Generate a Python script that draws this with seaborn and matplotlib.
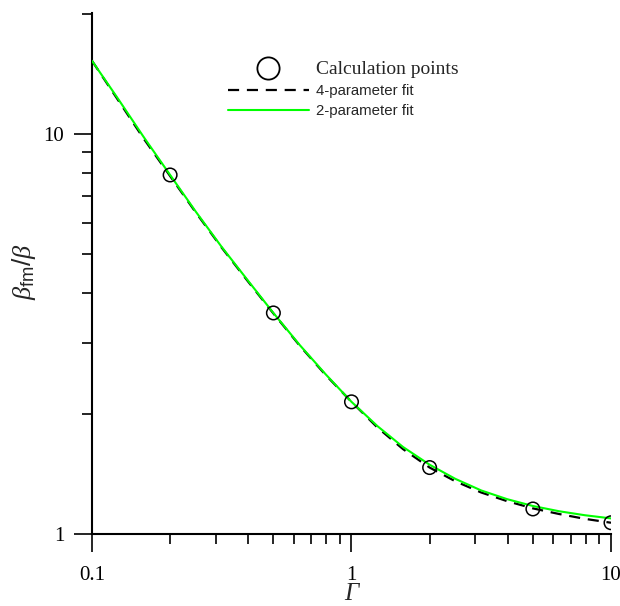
import matplotlib
matplotlib.use("Agg")
import matplotlib.pyplot as plt
import matplotlib.ticker as mticker
from matplotlib.lines import Line2D
import seaborn as sns
import pandas as pd

# Calculation points
gamma_pts = [0.2, 0.5, 1, 2, 5, 10]
ratio_pts = [7.90, 3.57, 2.14, 1.466, 1.155, 1.067]

# Curves (values read along the fits)
gamma_fit = [0.1, 0.126, 0.158, 0.2, 0.251, 0.316, 0.398, 0.5, 0.631, 0.794,
             1, 1.26, 1.58, 2, 2.51, 3.16, 3.98, 5, 6.31, 7.94, 10]
fit4 = [15.24, 12.16, 9.75, 7.85, 6.37, 5.20, 4.29, 3.56, 2.96, 2.50,
        2.14, 1.845, 1.63, 1.466, 1.355, 1.27, 1.208, 1.159, 1.122, 1.091, 1.067]
fit2 = [15.24, 12.25, 9.84, 7.90, 6.40, 5.22, 4.31, 3.57, 2.97, 2.51,
        2.14, 1.86, 1.65, 1.49, 1.374, 1.285, 1.222, 1.175, 1.140, 1.114, 1.094]

labels = ["Calculation points", "4-parameter fit", "2-parameter fit"]
xticks = [0.1, 1, 10]
xticklabels = ["0.1", "1", "10"]
yticks = [1, 10]
yticklabels = ["1", "10"]

sns.set_style("ticks")
plt.rcParams["mathtext.fontset"] = "custom"
plt.rcParams["mathtext.it"] = "Liberation Serif:italic"
plt.rcParams["mathtext.rm"] = "Liberation Sans"
plt.rcParams["font.family"] = ["Liberation Serif", "DejaVu Sans"]

fig = plt.figure(figsize=(6.2, 6.06), dpi=100)
ax = fig.add_axes([92/620, 1-534/606, 519/620, 521/606])

df_fit = pd.DataFrame({"g": gamma_fit, "f4": fit4, "f2": fit2})
df_pts = pd.DataFrame({"g": gamma_pts, "r": ratio_pts})

sns.lineplot(data=df_fit, x="g", y="f4", ax=ax, color="black", lw=1.6,
             linestyle=(0, (5, 3.5)), zorder=2)
sns.lineplot(data=df_fit, x="g", y="f2", ax=ax, color="#00ff00", lw=1.5, zorder=3)
sns.scatterplot(data=df_pts, x="g", y="r", ax=ax, s=95, facecolor="none",
                edgecolor="black", linewidth=1.1, zorder=4)

ax.set_xscale("log")
ax.set_yscale("log")
ax.set_xlim(0.1, 10)
ax.set_ylim(1, 20.07)

ax.xaxis.set_major_locator(mticker.FixedLocator(xticks))
ax.xaxis.set_major_formatter(mticker.FixedFormatter(xticklabels))
ax.xaxis.set_minor_locator(mticker.LogLocator(base=10, subs=range(2, 10)))
ax.xaxis.set_minor_formatter(mticker.NullFormatter())
ax.yaxis.set_major_locator(mticker.FixedLocator(yticks))
ax.yaxis.set_major_formatter(mticker.FixedFormatter(yticklabels))
ax.yaxis.set_minor_locator(mticker.LogLocator(base=10, subs=range(2, 10)))
ax.yaxis.set_minor_formatter(mticker.NullFormatter())

for s in ["top", "right"]:
    ax.spines[s].set_visible(False)
for s in ["left", "bottom"]:
    ax.spines[s].set_linewidth(1.5)
    ax.spines[s].set_color("black")

ax.tick_params(which="major", direction="out", length=13, width=1.2, color="black",
               labelsize=15, labelcolor="black")
ax.tick_params(axis="x", which="major", pad=10)
ax.tick_params(axis="y", which="major", pad=7)
ax.tick_params(which="minor", direction="out", length=7.5, width=1.2, color="black")
for t in ax.get_xticklabels() + ax.get_yticklabels():
    t.set_fontfamily("Liberation Serif")

ax.set_xlabel("Γ", fontsize=18, fontstyle="italic", family="Liberation Serif")
ax.xaxis.set_label_coords(0.5, -0.095)
ax.set_ylabel(r"$\beta_{\mathrm{fm}}/\beta$", fontsize=19)
ax.yaxis.set_label_coords(-0.104, 0.503)

handles = [
    Line2D([], [], linestyle="none", marker="o", markersize=16, markerfacecolor="none",
           markeredgecolor="black", markeredgewidth=1.3),
    Line2D([], [], color="black", lw=1.6, linestyle=(0, (5, 3.5))),
    Line2D([], [], color="#00ff00", lw=1.5),
]
leg = ax.legend(handles, labels, loc="upper left", bbox_to_anchor=(0.25, 0.92),
                frameon=False, fontsize=10.8, handlelength=5.4, handletextpad=0.5,
                labelspacing=0.42, borderaxespad=0)
texts = leg.get_texts()
texts[0].set_fontfamily("Liberation Serif")
texts[0].set_fontsize(14)
texts[1].set_fontfamily("Liberation Sans")
texts[2].set_fontfamily("Liberation Sans")

fig.savefig("out.png", dpi=100)
